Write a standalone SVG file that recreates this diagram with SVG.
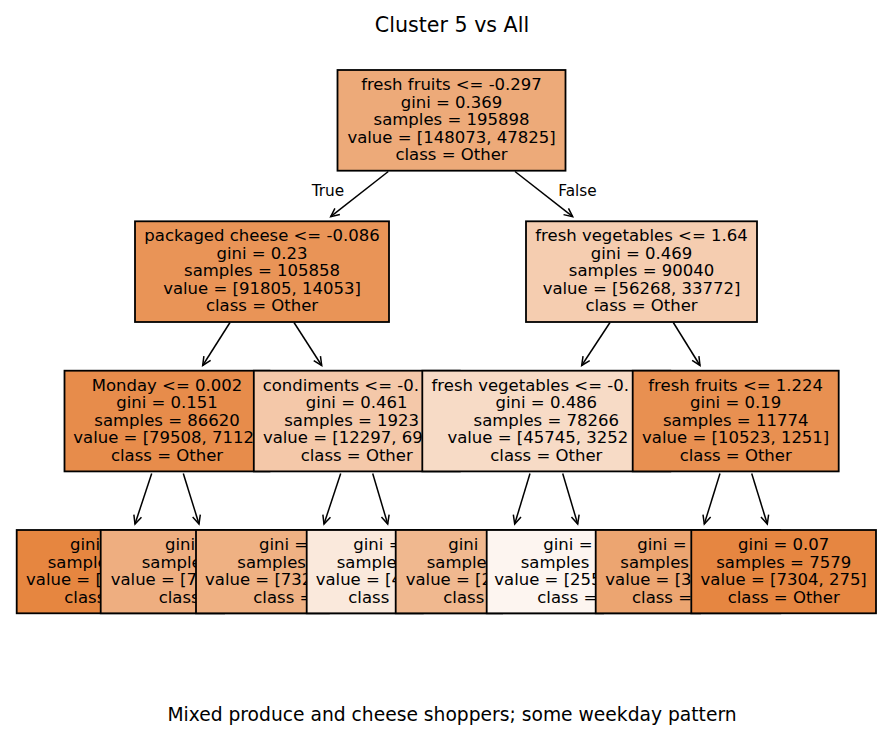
<svg xmlns="http://www.w3.org/2000/svg" width="887" height="732" viewBox="0 0 887 732">
<style>
text{font-family:"DejaVu Sans","Liberation Sans",sans-serif;fill:#000}
.n{font-size:16.5px}
.m{text-anchor:middle}
.b{stroke:#000;stroke-width:1.8}
.c{fill:none;stroke:#000;stroke-width:1.5}
</style>
<defs>
<marker id="ah" markerUnits="userSpaceOnUse" markerWidth="14" markerHeight="14" viewBox="-11 -7 14 14" refX="0" refY="0" orient="auto">
<path d="M-8.5,-4 L0,0 L-8.5,4" fill="none" stroke="#000" stroke-width="1.5"/>
</marker>
</defs>
<rect width="887" height="732" fill="#fff"/>
<text x="452" y="32" class="m" style="font-size:20.6px">Cluster 5 vs All</text>
<g id="connectors">
<line class="c" x1="388.3" y1="171.5" x2="330.7" y2="216.7" marker-end="url(#ah)"/>
<line class="c" x1="515" y1="171.5" x2="572.7" y2="216.7" marker-end="url(#ah)"/>
<line class="c" x1="230" y1="322.5" x2="202.7" y2="365.5" marker-end="url(#ah)"/>
<line class="c" x1="294" y1="322.5" x2="321.7" y2="365.5" marker-end="url(#ah)"/>
<line class="c" x1="610" y1="322.5" x2="581.7" y2="365.5" marker-end="url(#ah)"/>
<line class="c" x1="673.3" y1="322.5" x2="700" y2="365.5" marker-end="url(#ah)"/>
<line class="c" x1="151.7" y1="473.5" x2="135" y2="524" marker-end="url(#ah)"/>
<line class="c" x1="183.3" y1="473.5" x2="199" y2="524" marker-end="url(#ah)"/>
<line class="c" x1="340.7" y1="473.5" x2="324" y2="524" marker-end="url(#ah)"/>
<line class="c" x1="372.7" y1="473.5" x2="387.7" y2="524" marker-end="url(#ah)"/>
<line class="c" x1="530" y1="473.5" x2="514.7" y2="524" marker-end="url(#ah)"/>
<line class="c" x1="562.7" y1="473.5" x2="577.7" y2="524" marker-end="url(#ah)"/>
<line class="c" x1="720" y1="473.5" x2="704.3" y2="524" marker-end="url(#ah)"/>
<line class="c" x1="751.7" y1="473.5" x2="767.3" y2="524" marker-end="url(#ah)"/>
<text x="311.7" y="195.7" style="font-size:15.3px">True</text>
<text x="558.3" y="195.7" style="font-size:15.3px">False</text>
</g>
<g id="root">
<rect class="b" x="337.5" y="70" width="228" height="100.7" fill="#edaa79"/>
<text class="n m" x="451.5" y="90">fresh fruits &lt;= -0.297</text>
<text class="n m" x="451.5" y="107.5">gini = 0.369</text>
<text class="n m" x="451.5" y="125">samples = 195898</text>
<text class="n m" x="451.5" y="142.5">value = [148073, 47825]</text>
<text class="n m" x="451.5" y="160">class = Other</text>
</g>
<g id="node_packaged_cheese">
<rect class="b" x="135" y="221.3" width="254" height="100.7" fill="#e99457"/>
<text class="n m" x="262" y="241.3">packaged cheese &lt;= -0.086</text>
<text class="n m" x="262" y="258.8">gini = 0.23</text>
<text class="n m" x="262" y="276.3">samples = 105858</text>
<text class="n m" x="262" y="293.8">value = [91805, 14053]</text>
<text class="n m" x="262" y="311.3">class = Other</text>
</g>
<g id="node_fresh_veg_164">
<rect class="b" x="526" y="221.3" width="231" height="100.7" fill="#f5cdb0"/>
<text class="n m" x="641.5" y="241.3">fresh vegetables &lt;= 1.64</text>
<text class="n m" x="641.5" y="258.8">gini = 0.469</text>
<text class="n m" x="641.5" y="276.3">samples = 90040</text>
<text class="n m" x="641.5" y="293.8">value = [56268, 33772]</text>
<text class="n m" x="641.5" y="311.3">class = Other</text>
</g>
<g id="node_monday">
<rect class="b" x="64.5" y="370.7" width="205" height="100.7" fill="#e78c4b"/>
<text class="n m" x="167" y="390.7">Monday &lt;= 0.002</text>
<text class="n m" x="167" y="408.2">gini = 0.151</text>
<text class="n m" x="167" y="425.7">samples = 86620</text>
<text class="n" x="73.3" y="443.2">value = [79508, 7112</text>
<text class="n m" x="167" y="460.7">class = Other</text>
</g>
<g id="node_condiments">
<rect class="b" x="253.8" y="370.7" width="206" height="100.7" fill="#f4c8a9"/>
<text class="n" x="262.7" y="390.7">condiments &lt;= -0.</text>
<text class="n m" x="356.7" y="408.2">gini = 0.461</text>
<text class="n" x="284.2" y="425.7">samples = 1923</text>
<text class="n" x="262.9" y="443.2">value = [12297, 69</text>
<text class="n m" x="356.7" y="460.7">class = Other</text>
</g>
<g id="node_fresh_veg_neg">
<rect class="b" x="422.3" y="370.7" width="248" height="100.7" fill="#f7dbc6"/>
<text class="n" x="431.5" y="390.7">fresh vegetables &lt;= -0.</text>
<text class="n m" x="546.3" y="408.2">gini = 0.486</text>
<text class="n m" x="546.3" y="425.7">samples = 78266</text>
<text class="n" x="447.4" y="443.2">value = [45745, 3252</text>
<text class="n m" x="546.3" y="460.7">class = Other</text>
</g>
<g id="node_fresh_fruits_1224">
<rect class="b" x="632.7" y="370.7" width="206" height="100.7" fill="#e89051"/>
<text class="n m" x="735.7" y="390.7">fresh fruits &lt;= 1.224</text>
<text class="n m" x="735.7" y="408.2">gini = 0.19</text>
<text class="n m" x="735.7" y="425.7">samples = 11774</text>
<text class="n m" x="735.7" y="443.2">value = [10523, 1251]</text>
<text class="n m" x="735.7" y="460.7">class = Other</text>
</g>
<g id="leaf1">
<rect class="b" x="16.7" y="530" width="207.4" height="83.3" fill="#e68640"/>
<text class="n" x="70" y="550">gini</text>
<text class="n" x="47.7" y="567.5">sample</text>
<text class="n" x="26" y="585">value = [</text>
<text class="n" x="64.3" y="602.5">class</text>
</g>
<g id="leaf2">
<rect class="b" x="100.7" y="530" width="228.2" height="83.3" fill="#eeae80"/>
<text class="n" x="165" y="550">gini</text>
<text class="n" x="141.7" y="567.5">sample</text>
<text class="n" x="110.7" y="585">value = [7</text>
<text class="n" x="158.7" y="602.5">class</text>
</g>
<g id="leaf3">
<rect class="b" x="196" y="530" width="226.8" height="83.3" fill="#efb183"/>
<text class="n" x="259" y="550">gini =</text>
<text class="n" x="237.3" y="567.5">samples</text>
<text class="n" x="205" y="585">value = [732</text>
<text class="n" x="253.3" y="602.5">class =</text>
</g>
<g id="leaf4">
<rect class="b" x="306.7" y="530" width="195.4" height="83.3" fill="#fae9dc"/>
<text class="n" x="353.3" y="550">gini =</text>
<text class="n" x="336.7" y="567.5">sample</text>
<text class="n" x="315.7" y="585">value = [4</text>
<text class="n" x="348.3" y="602.5">class</text>
</g>
<g id="leaf5">
<rect class="b" x="395.7" y="530" width="207.4" height="83.3" fill="#f0b88f"/>
<text class="n" x="448.3" y="550">gini</text>
<text class="n" x="426.7" y="567.5">sample</text>
<text class="n" x="405.7" y="585">value = [2</text>
<text class="n" x="443.3" y="602.5">class</text>
</g>
<g id="leaf6">
<rect class="b" x="486.7" y="530" width="213.4" height="83.3" fill="#fdf5f0"/>
<text class="n" x="543.3" y="550">gini =</text>
<text class="n" x="520.7" y="567.5">samples</text>
<text class="n" x="494.3" y="585">value = [255</text>
<text class="n" x="537.3" y="602.5">class =</text>
</g>
<g id="leaf7">
<rect class="b" x="595.7" y="530" width="184.6" height="83.3" fill="#eca571"/>
<text class="n" x="637.3" y="550">gini =</text>
<text class="n" x="620.3" y="567.5">samples</text>
<text class="n" x="605.3" y="585">value = [3</text>
<text class="n" x="632" y="602.5">class =</text>
</g>
<g id="leaf8">
<rect class="b" x="691.3" y="530" width="184.7" height="83.3" fill="#e68641"/>
<text class="n m" x="783.7" y="550">gini = 0.07</text>
<text class="n m" x="783.7" y="567.5">samples = 7579</text>
<text class="n m" x="783.7" y="585">value = [7304, 275]</text>
<text class="n m" x="783.7" y="602.5">class = Other</text>
</g>
<text x="452" y="720.7" class="m" style="font-size:18.7px">Mixed produce and cheese shoppers; some weekday pattern</text>
</svg>
